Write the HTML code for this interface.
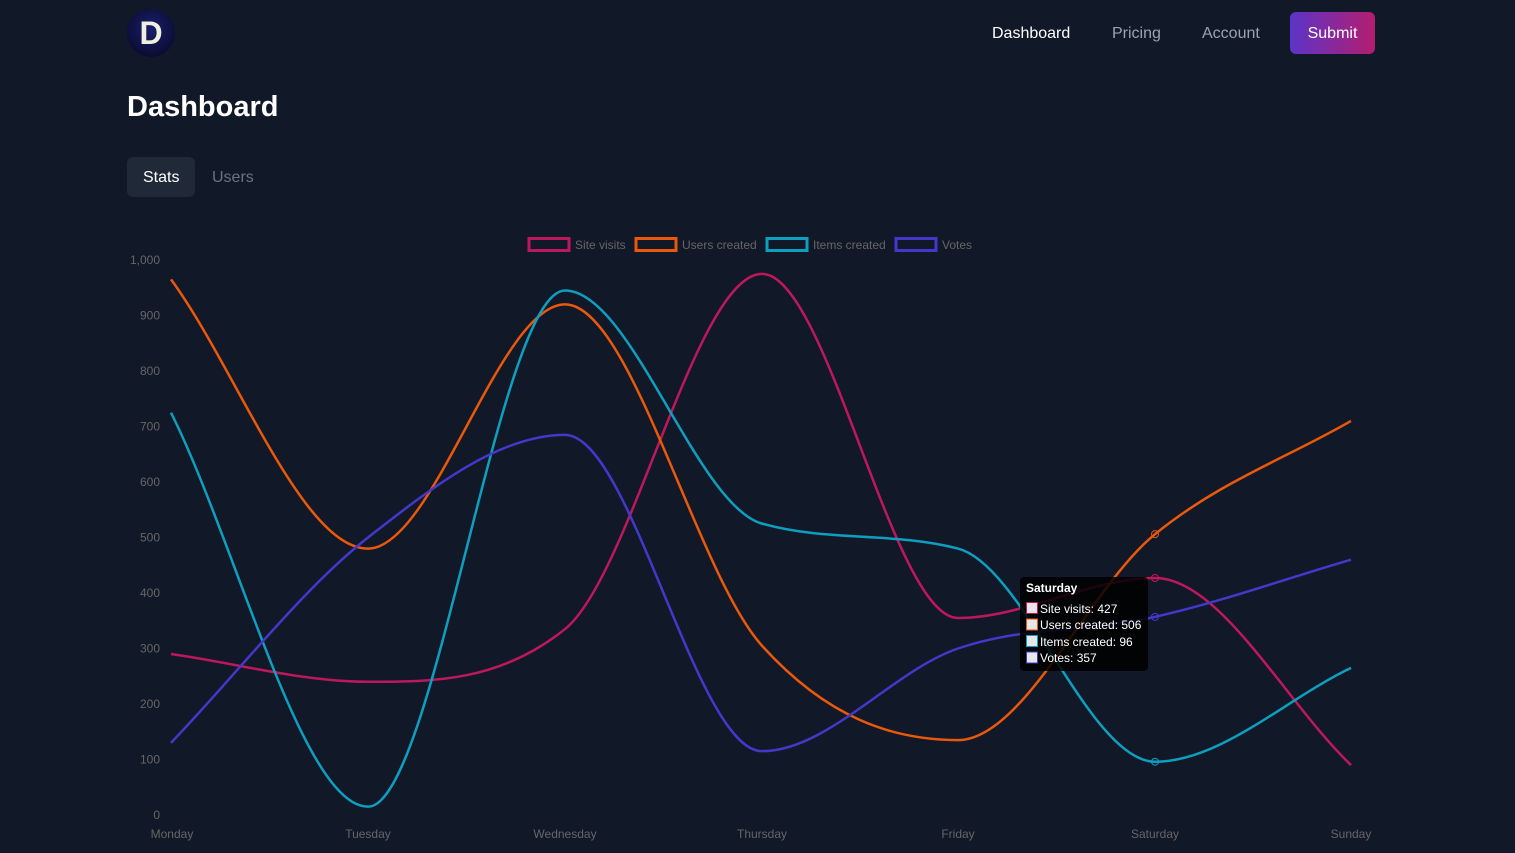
<!DOCTYPE html>
<html><head><meta charset="utf-8"><style>
body{margin:0;width:1515px;height:853px;background:#111827;font-family:"Liberation Sans",sans-serif;overflow:hidden;position:relative}
.logo{position:absolute;left:127px;top:9px;width:48px;height:48px;border-radius:50%;background:radial-gradient(circle at 50% 40%,#1a1f6e,#05061f);color:#f1f0dc;font-weight:bold;font-size:32px;text-align:center;line-height:48px}
.nav{position:absolute;top:25px;font-size:16px;color:#9ca3af}
.btn{position:absolute;left:1290px;top:12px;width:85px;height:42px;border-radius:6px;background:linear-gradient(90deg,#5b34c8,#b31e6f);color:#fff;font-size:16px;text-align:center;line-height:44px}
h1{position:absolute;left:127px;top:91px;margin:0;font-size:29px;color:#fff}
.tab{position:absolute;top:157px;height:40px;line-height:42px;font-size:16px;padding:0 16px;border-radius:6px}
</style></head><body>
<div class="logo">D</div>
<div class="nav" style="left:992px;color:#fff">Dashboard</div>
<div class="nav" style="left:1112px">Pricing</div>
<div class="nav" style="left:1202px">Account</div>
<div class="btn">Submit</div>
<h1>Dashboard</h1>
<div class="tab" style="left:127px;background:#1f2937;color:#fff">Stats</div>
<div class="tab" style="left:196px;color:#6b7280">Users</div>
<svg id="c" width="1515" height="853" style="position:absolute;left:0;top:0" font-family="Liberation Sans, sans-serif" font-size="12" fill="#666">
<g font-size="12">
<rect x="529" y="238.5" width="40" height="12" fill="none" stroke="#be185d" stroke-width="3"/><text x="575" y="249">Site visits</text>
<rect x="636" y="238.5" width="40" height="12" fill="none" stroke="#ea580c" stroke-width="3"/><text x="682" y="249">Users created</text>
<rect x="767" y="238.5" width="40" height="12" fill="none" stroke="#0e9fc0" stroke-width="3"/><text x="813" y="249">Items created</text>
<rect x="896" y="238.5" width="40" height="12" fill="none" stroke="#4338ca" stroke-width="3"/><text x="942" y="249">Votes</text>
</g>
<g id="yl" text-anchor="end"></g><g id="xl" text-anchor="middle"></g><g id="ln"></g>
<g>
<rect x="1020" y="577" width="128" height="94" rx="4" fill="#000" fill-opacity="0.85"/>
<text x="1026" y="592" fill="#fff" font-weight="bold" font-size="12">Saturday</text>
<g font-size="12" fill="#fff">
<rect x="1026.5" y="602.5" width="11" height="11" fill="#e5e7eb" stroke="#be185d"/><text x="1040" y="613">Site visits: 427</text>
<rect x="1026.5" y="619" width="11" height="11" fill="#e5e7eb" stroke="#ea580c"/><text x="1040" y="629">Users created: 506</text>
<rect x="1026.5" y="635.5" width="11" height="11" fill="#e5e7eb" stroke="#0e9fc0"/><text x="1040" y="646">Items created: 96</text>
<rect x="1026.5" y="652" width="11" height="11" fill="#e5e7eb" stroke="#4338ca"/><text x="1040" y="662">Votes: 357</text>
</g></g>
</svg>
<script>
var NS="http://www.w3.org/2000/svg";
function Y(v){return 815-v*0.555}
var X=[171,368,565,762,958,1155,1351],days=["Monday","Tuesday","Wednesday","Thursday","Friday","Saturday","Sunday"];
var yl=document.getElementById("yl"),xl=document.getElementById("xl"),ln=document.getElementById("ln");
function t(g,x,y,s){var e=document.createElementNS(NS,"text");e.setAttribute("x",x);e.setAttribute("y",y);e.textContent=s;g.appendChild(e)}
for(var v=0;v<=1000;v+=100)t(yl,160,Y(v)+4,v==1000?"1,000":v);
days.forEach(function(d,i){t(xl,X[i]+(i==0?1:0),838,d)});
var S=[["#be185d",[290,240,335,975,355,427,90]],["#ea580c",[965,480,920,305,135,506,710]],["#0e9fc0",[725,15,945,525,480,96,265]],["#4338ca",[130,500,685,115,300,357,460]]];
function mono(xs,ys){var n=xs.length,d=[],m=[];for(var i=0;i<n-1;i++)d.push((ys[i+1]-ys[i])/(xs[i+1]-xs[i]));
m[0]=d[0];m[n-1]=d[n-2];for(i=1;i<n-1;i++)m[i]=d[i-1]*d[i]<=0?0:(d[i-1]+d[i])/2;
for(i=0;i<n-1;i++){if(d[i]==0){m[i]=m[i+1]=0;continue}var a=m[i]/d[i],b=m[i+1]/d[i],s=a*a+b*b;if(s>9){var tt=3/Math.sqrt(s);m[i]=tt*a*d[i];m[i+1]=tt*b*d[i]}}
var p="M"+xs[0]+","+ys[0];for(i=0;i<n-1;i++){var h=(xs[i+1]-xs[i])/3;p+=" C"+(xs[i]+h)+","+(ys[i]+m[i]*h)+" "+(xs[i+1]-h)+","+(ys[i+1]-m[i+1]*h)+" "+xs[i+1]+","+ys[i+1]}return p}
S.forEach(function(s){var ys=s[1].map(Y);var p=document.createElementNS(NS,"path");p.setAttribute("d",mono(X,ys));p.setAttribute("fill","none");p.setAttribute("stroke",s[0]);p.setAttribute("stroke-width","2.5");ln.appendChild(p);
var c=document.createElementNS(NS,"circle");c.setAttribute("cx",X[5]);c.setAttribute("cy",ys[5]);c.setAttribute("r",3.5);c.setAttribute("fill","none");c.setAttribute("stroke",s[0]);ln.appendChild(c)});
</script>
</body></html>
